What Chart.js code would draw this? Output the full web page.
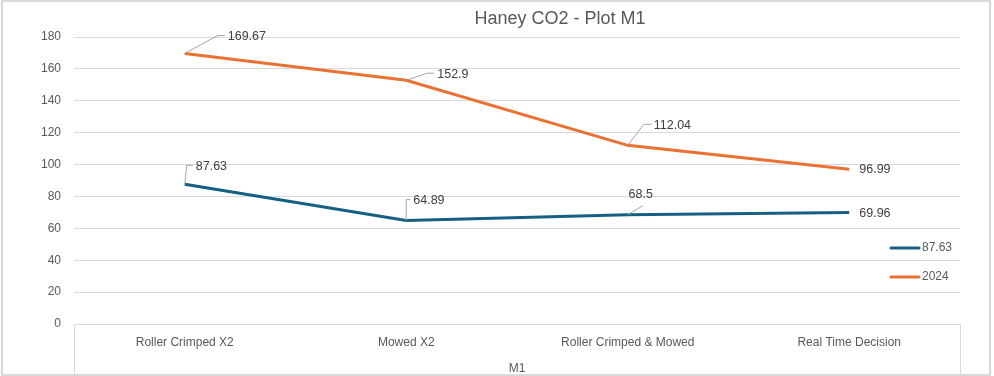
<!DOCTYPE html>
<html>
<head>
<meta charset="utf-8">
<script src="https://cdn.jsdelivr.net/npm/chart.js@4.4.0/dist/chart.umd.min.js"></script>
<style>
  html, body { margin: 0; padding: 0; background: #fff; }
  #wrap { position: relative; width: 994px; height: 376px; }
  #frame { position: absolute; left: 1px; top: 0; width: 990px; height: 376px; box-sizing: border-box; border: 2px solid #d9d9d9; pointer-events: none; }
</style>
</head>
<body>
<div id="wrap">
  <canvas id="chart" width="994" height="376"></canvas>
  <div id="frame"></div>
</div>
<script>
// chart data
const categories = ["Roller Crimped X2", "Mowed X2", "Roller Crimped & Mowed", "Real Time Decision"];
const seriesA = [87.63, 64.89, 68.5, 69.96];     // legend "87.63"
const seriesB = [169.67, 152.9, 112.04, 96.99];  // legend "2024"
const seriesNames = ["87.63", "2024"];
const yMin = 0, yMax = 180, yStep = 20;

// where each data label sits relative to its point (elbow/end of leader, text)
const labelSpots = [
  [
    { elbow: [2, -19], end: [8, -19], text: [11, -18] },
    { elbow: [0, -21], end: [4, -21], text: [7, -20] },
    { end: [15, -9], text: [13, -20], align: "center" },
    { text: [10, 1] }
  ],
  [
    { elbow: [33, -18], end: [40, -18], text: [43, -17] },
    { elbow: [21, -7], end: [28, -7], text: [31, -6] },
    { elbow: [16, -21], end: [24, -21], text: [26, -20] },
    { text: [10, 0] }
  ]
];

Chart.defaults.font.family = "'Liberation Sans', Arial, sans-serif";
Chart.defaults.color = "#595959";

// title, drawn a bit right of centre like the original
const titlePlugin = {
  id: "titleText",
  afterDraw(chart) {
    const ctx = chart.ctx;
    ctx.save();
    ctx.font = "18px 'Liberation Sans', Arial, sans-serif";
    ctx.fillStyle = "#595959";
    ctx.textAlign = "center";
    ctx.textBaseline = "middle";
    ctx.fillText("Haney CO2 - Plot M1", 560, 19);
    ctx.restore();
  }
};

// vertical edges of the category table below the plot
const tableLines = {
  id: "tableLines",
  beforeDatasetsDraw(chart) {
    const { ctx, chartArea } = chart;
    ctx.save();
    ctx.strokeStyle = "#d9d9d9";
    ctx.lineWidth = 1;
    ctx.beginPath();
    [chartArea.left, chartArea.right].forEach(x => {
      ctx.moveTo(Math.round(x) + 0.5, chartArea.bottom);
      ctx.lineTo(Math.round(x) + 0.5, chart.height);
    });
    ctx.stroke();
    ctx.restore();
  }
};

// data labels with leader lines
const dataLabels = {
  id: "dataLabels",
  afterDatasetsDraw(chart) {
    const ctx = chart.ctx;
    ctx.save();
    ctx.font = "12.5px 'Liberation Sans', Arial, sans-serif";
    ctx.textBaseline = "middle";
    chart.data.datasets.forEach((ds, di) => {
      chart.getDatasetMeta(di).data.forEach((pt, i) => {
        const spot = labelSpots[di][i];
        if (spot.end) {
          ctx.strokeStyle = "#a6a6a6";
          ctx.lineWidth = 1;
          ctx.beginPath();
          ctx.moveTo(pt.x, pt.y);
          if (spot.elbow) ctx.lineTo(pt.x + spot.elbow[0], pt.y + spot.elbow[1]);
          ctx.lineTo(pt.x + spot.end[0], pt.y + spot.end[1]);
          ctx.stroke();
        }
        ctx.fillStyle = "#404040";
        ctx.textAlign = spot.align || "left";
        ctx.fillText(String(ds.data[i]), pt.x + spot.text[0], pt.y + spot.text[1]);
      });
    });
    ctx.restore();
  }
};

// legend placed inside the plot at the right
const sideLegend = {
  id: "sideLegend",
  afterDraw(chart) {
    const ctx = chart.ctx;
    ctx.save();
    ctx.font = "12px 'Liberation Sans', Arial, sans-serif";
    ctx.textBaseline = "middle";
    chart.data.datasets.forEach((ds, i) => {
      const y = 248 + i * 29;
      ctx.strokeStyle = ds.borderColor;
      ctx.lineWidth = 3;
      ctx.lineCap = "round";
      ctx.beginPath();
      ctx.moveTo(891, y);
      ctx.lineTo(919, y);
      ctx.stroke();
      ctx.fillStyle = "#595959";
      ctx.fillText(ds.label, 922, y);
    });
    ctx.restore();
  }
};

new Chart(document.getElementById("chart"), {
  type: "line",
  data: {
    labels: categories,
    datasets: [
      { label: seriesNames[0], data: seriesA, borderColor: "#156082", backgroundColor: "#156082", borderWidth: 3, pointRadius: 0, tension: 0, fill: false },
      { label: seriesNames[1], data: seriesB, borderColor: "#E97132", backgroundColor: "#E97132", borderWidth: 3, pointRadius: 0, tension: 0, fill: false }
    ]
  },
  options: {
    responsive: false,
    animation: false,
    layout: { padding: { left: 0, top: 37, right: 34, bottom: 0 } },
    plugins: {
      legend: { display: false },
      title: { display: false },
      tooltip: { enabled: false }
    },
    scales: {
      x: {
        offset: true,
        grid: { display: false },
        border: { display: true, color: "#d9d9d9" },
        ticks: { color: "#595959", font: { size: 12 }, padding: 3, maxRotation: 0 },
        title: { display: true, text: "M1", color: "#595959", font: { size: 12 }, padding: { top: 4, bottom: 0 } },
        afterFit: s => { s.height = 52; }
      },
      y: {
        min: yMin,
        max: yMax,
        ticks: { stepSize: yStep, color: "#595959", font: { size: 12 }, padding: 13 },
        grid: { color: "#d9d9d9", drawTicks: false },
        border: { display: false },
        afterFit: s => { s.width = 74; }
      }
    }
  },
  plugins: [titlePlugin, tableLines, dataLabels, sideLegend]
});
</script>
</body>
</html>
